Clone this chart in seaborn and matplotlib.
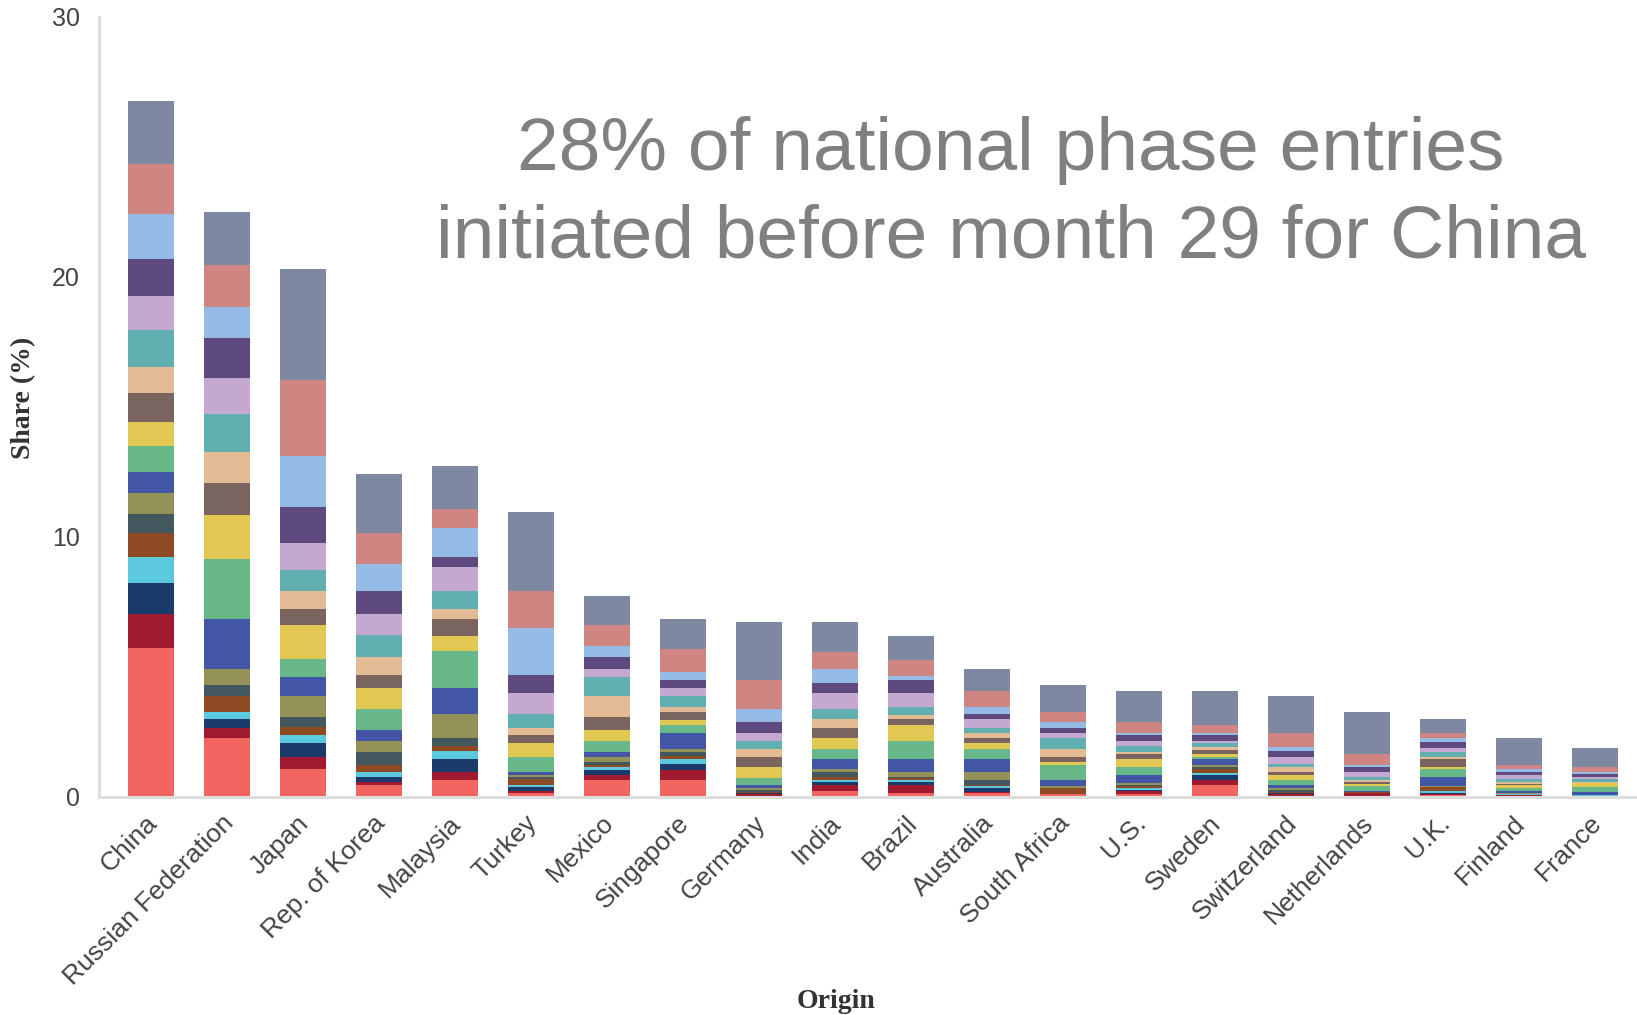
import numpy as np
import pandas as pd
import matplotlib
matplotlib.use("Agg")
import matplotlib.pyplot as plt
import matplotlib.transforms as mtransforms
import seaborn as sns

origins = ["China", "Russian Federation", "Japan", "Rep. of Korea", "Malaysia",
           "Turkey", "Mexico", "Singapore", "Germany", "India", "Brazil",
           "Australia", "South Africa", "U.S.", "Sweden", "Switzerland",
           "Netherlands", "U.K.", "Finland", "France"]

# share (%) of entries per segment, from bottom of the bar to top
china = [5.72, 1.31, 1.21, 1.00, 0.90, 0.73, 0.81, 0.82, 1.00, 0.91, 1.12, 1.02, 1.41, 1.31, 1.42, 1.72, 1.92, 2.44]
russia = [2.26, 0.41, 0.33, 0.28, 0.60, 0.43, 0.60, 1.92, 2.31, 1.71, 1.24, 1.19, 1.44, 1.41, 1.54, 1.19, 1.60, 2.05]
japan = [1.07, 0.48, 0.51, 0.32, 0.30, 0.41, 0.79, 0.72, 0.70, 1.32, 0.60, 0.70, 0.81, 1.03, 1.41, 1.95, 2.92, 4.26]
korea = [0.46, 0.11, 0.19, 0.19, 0.28, 0.51, 0.41, 0.43, 0.80, 0.82, 0.49, 0.71, 0.83, 0.80, 0.89, 1.03, 1.22, 2.24]
malaysia = [0.65, 0.30, 0.50, 0.32, 0.19, 0.32, 0.90, 1.02, 1.40, 0.61, 0.62, 0.39, 0.70, 0.94, 0.38, 1.12, 0.71, 1.66]
turkey = [0.17, 0.07, 0.13, 0.09, 0.22, 0.08, 0.09, 0.10, 0.60, 0.51, 0.32, 0.29, 0.51, 0.81, 0.70, 1.82, 1.41, 3.05]
mexico = [0.65, 0.20, 0.19, 0.10, 0.09, 0.10, 0.22, 0.19, 0.41, 0.43, 0.51, 0.79, 0.72, 0.31, 0.49, 0.41, 0.81, 1.12]
singapore = [0.65, 0.39, 0.22, 0.19, 0.14, 0.15, 0.11, 0.62, 0.30, 0.19, 0.32, 0.19, 0.41, 0.30, 0.32, 0.29, 0.90, 1.14]
germany = [0.05, 0.08, 0.02, 0.02, 0.03, 0.07, 0.09, 0.10, 0.28, 0.40, 0.41, 0.30, 0.30, 0.32, 0.40, 0.50, 1.13, 2.22]
india = [0.24, 0.22, 0.11, 0.08, 0.11, 0.19, 0.12, 0.38, 0.40, 0.41, 0.41, 0.32, 0.38, 0.62, 0.41, 0.51, 0.68, 1.13]
brazil = [0.14, 0.32, 0.11, 0.08, 0.07, 0.04, 0.19, 0.50, 0.70, 0.62, 0.22, 0.17, 0.31, 0.52, 0.49, 0.19, 0.61, 0.93]
australia = [0.15, 0.05, 0.16, 0.06, 0.04, 0.19, 0.30, 0.50, 0.40, 0.21, 0.22, 0.19, 0.20, 0.32, 0.19, 0.29, 0.61, 0.83]
south_africa = [0.10, 0.01, 0.01, 0.01, 0.20, 0.02, 0.07, 0.23, 0.58, 0.13, 0.19, 0.30, 0.41, 0.19, 0.22, 0.20, 0.41, 1.03]
us = [0.11, 0.12, 0.04, 0.06, 0.09, 0.04, 0.09, 0.30, 0.29, 0.31, 0.20, 0.09, 0.22, 0.19, 0.23, 0.09, 0.40, 1.22]
sweden = [0.46, 0.19, 0.20, 0.08, 0.14, 0.07, 0.09, 0.22, 0.10, 0.10, 0.16, 0.10, 0.15, 0.09, 0.23, 0.09, 0.30, 1.32]
switzerland = [0.05, 0.08, 0.02, 0.01, 0.04, 0.07, 0.09, 0.10, 0.19, 0.20, 0.10, 0.19, 0.11, 0.30, 0.22, 0.16, 0.54, 1.43]
netherlands = [0.05, 0.09, 0.02, 0.01, 0.01, 0.01, 0.01, 0.02, 0.22, 0.05, 0.09, 0.07, 0.11, 0.19, 0.19, 0.09, 0.42, 1.63]
uk = [0.07, 0.06, 0.04, 0.05, 0.16, 0.02, 0.02, 0.34, 0.31, 0.10, 0.28, 0.10, 0.19, 0.16, 0.20, 0.16, 0.19, 0.54]
finland = [0.04, 0.03, 0.02, 0.01, 0.01, 0.01, 0.05, 0.07, 0.09, 0.13, 0.04, 0.07, 0.11, 0.17, 0.10, 0.12, 0.16, 1.05]
france = [0.01, 0.03, 0.01, 0.01, 0.01, 0.01, 0.01, 0.10, 0.19, 0.14, 0.03, 0.04, 0.11, 0.08, 0.11, 0.06, 0.21, 0.73]

segment_colors = ["#F26560", "#A01B30", "#1B3C6B", "#5BC8DD", "#8E4A22", "#43575F",
                  "#939158", "#4356A6", "#67B788", "#E2C752", "#796460", "#E2BA93",
                  "#62AFB0", "#C4A8D0", "#5F4A80", "#93BBE5", "#CF8683", "#7E88A0"]

shares = pd.DataFrame([china, russia, japan, korea, malaysia, turkey, mexico,
                       singapore, germany, india, brazil, australia, south_africa,
                       us, sweden, switzerland, netherlands, uk, finland, france],
                      index=origins)
cum = shares.cumsum(axis=1)

sns.set_theme(style="white")
plt.rcParams["font.family"] = ["Liberation Sans", "DejaVu Sans"]

fig = plt.figure(figsize=(16.37, 10.15), dpi=100)
ax = fig.add_axes([0.0605, 0.2148, 0.9395, 0.7685])

# stacked bars: paint cumulative totals from the top segment down
for k in range(cum.shape[1] - 1, -1, -1):
    sns.barplot(x=origins, y=cum[k].values, order=origins, color=segment_colors[k],
                saturation=1, width=0.605, linewidth=0, ax=ax)

ax.set_xlim(-0.684, 19.55)
ax.set_ylim(0, 30)
ax.set_yticks([0, 10, 20, 30])
ax.tick_params(axis="y", labelsize=18, colors="#444444", length=0, pad=14)
ax.tick_params(axis="x", labelsize=19, colors="#444444", length=0, pad=10)
shift = mtransforms.ScaledTranslation(-0.06, 0, fig.dpi_scale_trans)
for lab in ax.get_xticklabels():
    lab.set_rotation(45)
    lab.set_ha("right")
    lab.set_va("top")
    lab.set_rotation_mode("anchor")
    lab.set_transform(lab.get_transform() + shift)

sns.despine(ax=ax)
for side in ["left", "bottom"]:
    ax.spines[side].set_color("#dddddd")
    ax.spines[side].set_linewidth(2.2)

ax.set_ylabel("Share (%)", fontsize=20, fontweight="bold", color="#333333",
              family=["Liberation Serif", "DejaVu Serif"])
ax.yaxis.set_label_coords(-0.041, 0.512)
ax.set_xlabel("Origin", fontsize=20, fontweight="bold", color="#333333",
              family=["Liberation Serif", "DejaVu Serif"])
ax.xaxis.set_label_coords(0.479, -0.246)

fig.text(0.6176, 0.886, "28% of national phase entries\ninitiated before month 29 for China",
         ha="center", va="top", fontsize=54, color="#808080", linespacing=1.34)

fig.savefig("out.png", dpi=100)
